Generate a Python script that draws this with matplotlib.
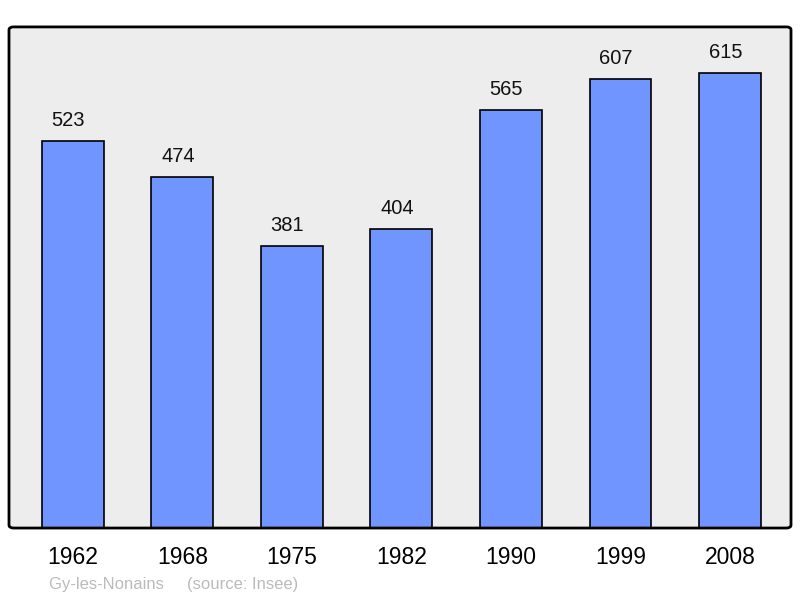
import matplotlib.pyplot as plt
from matplotlib.patches import FancyBboxPatch

years = ['1962', '1968', '1975', '1982', '1990', '1999', '2008']
population = [523, 474, 381, 404, 565, 607, 615]
town = 'Gy-les-Nonains'
source = '(source: Insee)'

plt.rcParams['font.family'] = ['Liberation Sans', 'DejaVu Sans']

fig = plt.figure(figsize=(8, 5.98), dpi=100)
ax = fig.add_axes([0.01125, 0.117, 0.9775, 0.838])
ax.set_facecolor('#ededed')

x = range(len(years))
bars = ax.bar(x, population, width=0.566, color='#7095ff',
              edgecolor='black', linewidth=1.2, zorder=2)

# value labels above each bar (sit a little left of centre in the original)
for xi, val in zip(x, population):
    ax.annotate(str(val), (xi, val), xytext=(-3.3, 8), textcoords='offset points',
                ha='center', va='bottom', fontsize=14.5, color='#111111')

ax.set_xlim(-0.584, 6.557)
ax.set_ylim(0, 677)
ax.set_xticks(list(x))
ax.set_xticklabels(years, fontsize=16.5)
ax.tick_params(axis='x', length=0, pad=13)
ax.set_yticks([])
for sp in ax.spines.values():
    sp.set_visible(False)

# frame with slightly rounded corners
frame = FancyBboxPatch((0, 0), 1, 1, boxstyle='round,pad=0,rounding_size=0.006',
                       transform=ax.transAxes, fill=False, edgecolor='black',
                       linewidth=2, zorder=5, clip_on=False)
ax.add_patch(frame)

fig.text(49 / 800, 1 - 585 / 598, town + '     ' + source, fontsize=12,
         color='#bbbbbb', ha='left', va='center')

fig.savefig('out.png', dpi=100, facecolor='white')
